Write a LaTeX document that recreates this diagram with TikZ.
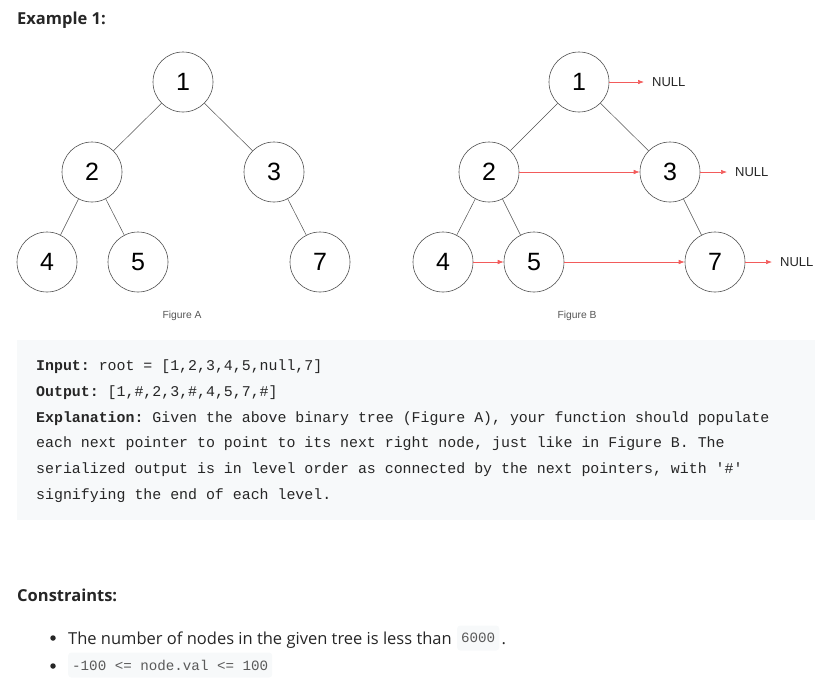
\documentclass[tikz,border=0pt]{standalone}
\usepackage{fontspec}
\setmainfont{Open Sans}
\setsansfont{Liberation Sans}
\setmonofont{Liberation Mono}
\usetikzlibrary{positioning,arrows.meta}

\definecolor{nullred}{HTML}{F25B5B}
\definecolor{edgegray}{HTML}{505050}
\definecolor{codebg}{HTML}{F7F9FA}
\definecolor{textdark}{HTML}{262626}
\definecolor{captiongray}{HTML}{555555}
\definecolor{spangray}{HTML}{5A5A5A}

\begin{document}
\begin{tikzpicture}[
            x=1pt, y=-1pt,
            node distance=90pt and 91pt, on grid,
            treenode/.style={circle, draw=edgegray, line width=0.6pt, minimum size=60pt, inner sep=0pt, font=\fontsize{25}{25}\sffamily},
            edge/.style={draw=edgegray, line width=0.5pt},
            nextptr/.style={-{Latex[length=6pt,width=4.5pt]}, draw=nullred, line width=0.6pt},
            nulltext/.style={anchor=west, inner sep=0pt, text=textdark, font=\fontsize{13}{13}\sffamily},
            caption/.style={inner sep=0pt, text=captiongray, font=\fontsize{10.3}{11}\selectfont\sffamily},
            heading/.style={anchor=west, inner sep=0pt, text=textdark, font=\fontsize{16.5}{17}\selectfont\bfseries},
            codeline/.style={anchor=west, inner sep=0pt, text=textdark, font=\fontsize{14.9}{15}\ttfamily},
            bodytext/.style={anchor=base west, inner sep=0pt, text=textdark, font=\fontsize{16.5}{17}\selectfont},
            bulletdot/.style={circle, fill=textdark, inner sep=0pt, minimum size=5.5pt},
            codespan/.style={anchor=west, fill=codebg, rounded corners=3pt, inner xsep=4pt, minimum height=25pt, text=spangray, font=\fontsize{14.2}{15}\ttfamily}
        ]
            \useasboundingbox (0,0) rectangle (838,681);

            \node[heading] (title) at (17,20) {Example 1:};

            % Figure A
            \node[treenode] (a1) at (183,82) {1};
            \node[treenode, below left=of a1] (a2) {2};
            \node[treenode, below right=of a1] (a3) {3};
            \node[treenode, below left=90pt and 45pt of a2] (a4) {4};
            \node[treenode, below right=90pt and 46pt of a2] (a5) {5};
            \node[treenode, below right=90pt and 46pt of a3] (a7) {7};
            \draw[edge] (a1) -- (a2);
            \draw[edge] (a1) -- (a3);
            \draw[edge] (a2) -- (a4);
            \draw[edge] (a2) -- (a5);
            \draw[edge] (a3) -- (a7);
            \node[caption] (capA) at (182,316) {Figure A};

            % Figure B
            \node[treenode] (b1) at (579,82) {1};
            \node[treenode, below left=90pt and 90pt of b1] (b2) {2};
            \node[treenode, below right=of b1] (b3) {3};
            \node[treenode, below left=90pt and 46pt of b2] (b4) {4};
            \node[treenode, below right=90pt and 45pt of b2] (b5) {5};
            \node[treenode, below right=90pt and 45pt of b3] (b7) {7};
            \draw[edge] (b1) -- (b2);
            \draw[edge] (b1) -- (b3);
            \draw[edge] (b2) -- (b4);
            \draw[edge] (b2) -- (b5);
            \draw[edge] (b3) -- (b7);
            \node[nulltext] (n1) at (652,82) {NULL};
            \node[nulltext] (n3) at (735,172) {NULL};
            \node[nulltext] (n7) at (780,262) {NULL};
            \draw[nextptr] (b1) -- ([xshift=-8pt]n1.west);
            \draw[nextptr] (b2) -- (b3);
            \draw[nextptr] (b3) -- ([xshift=-8pt]n3.west);
            \draw[nextptr] (b4) -- (b5);
            \draw[nextptr] (b5) -- (b7);
            \draw[nextptr] (b7) -- ([xshift=-8pt]n7.west);
            \node[caption] (capB) at (577,316) {Figure B};

            % explanation box
            \fill[codebg] (17,340) rectangle (815,520);
            \node[codeline] (in) at (36,367) {\textbf{Input:} root = [1,2,3,4,5,null,7]};
            \node[codeline] (out) at (36,393) {\textbf{Output:} [1,\#,2,3,\#,4,5,7,\#]};
            \node[codeline] (ex1) at (36,419) {\textbf{Explanation:} Given the above binary tree (Figure A), your function should populate};
            \node[codeline] (ex2) at (36,444) {each next pointer to point to its next right node, just like in Figure B. The};
            \node[codeline] (ex3) at (36,470) {serialized output is in level order as connected by the next pointers, with '\#'};
            \node[codeline] (ex4) at (36,496) {signifying the end of each level.};

            % constraints
            \node[heading] (cons) at (17,595) {Constraints:};
            \node[bulletdot] (dot1) at (53,638) {};
            \node[bodytext] (c1) at (68,644) {The number of nodes in the given tree is less than};
            \node[codespan] (span1) at ([xshift=5pt,yshift=6pt]c1.base east) {6000};
            \node[bodytext] (stop) at ([xshift=2pt]span1.east |- c1.base) {.};
            \node[bulletdot] (dot2) at (53,666) {};
            \node[codespan] (span2) at (68,665) {-100 <= node.val <= 100};
        \end{tikzpicture}
\end{document}
